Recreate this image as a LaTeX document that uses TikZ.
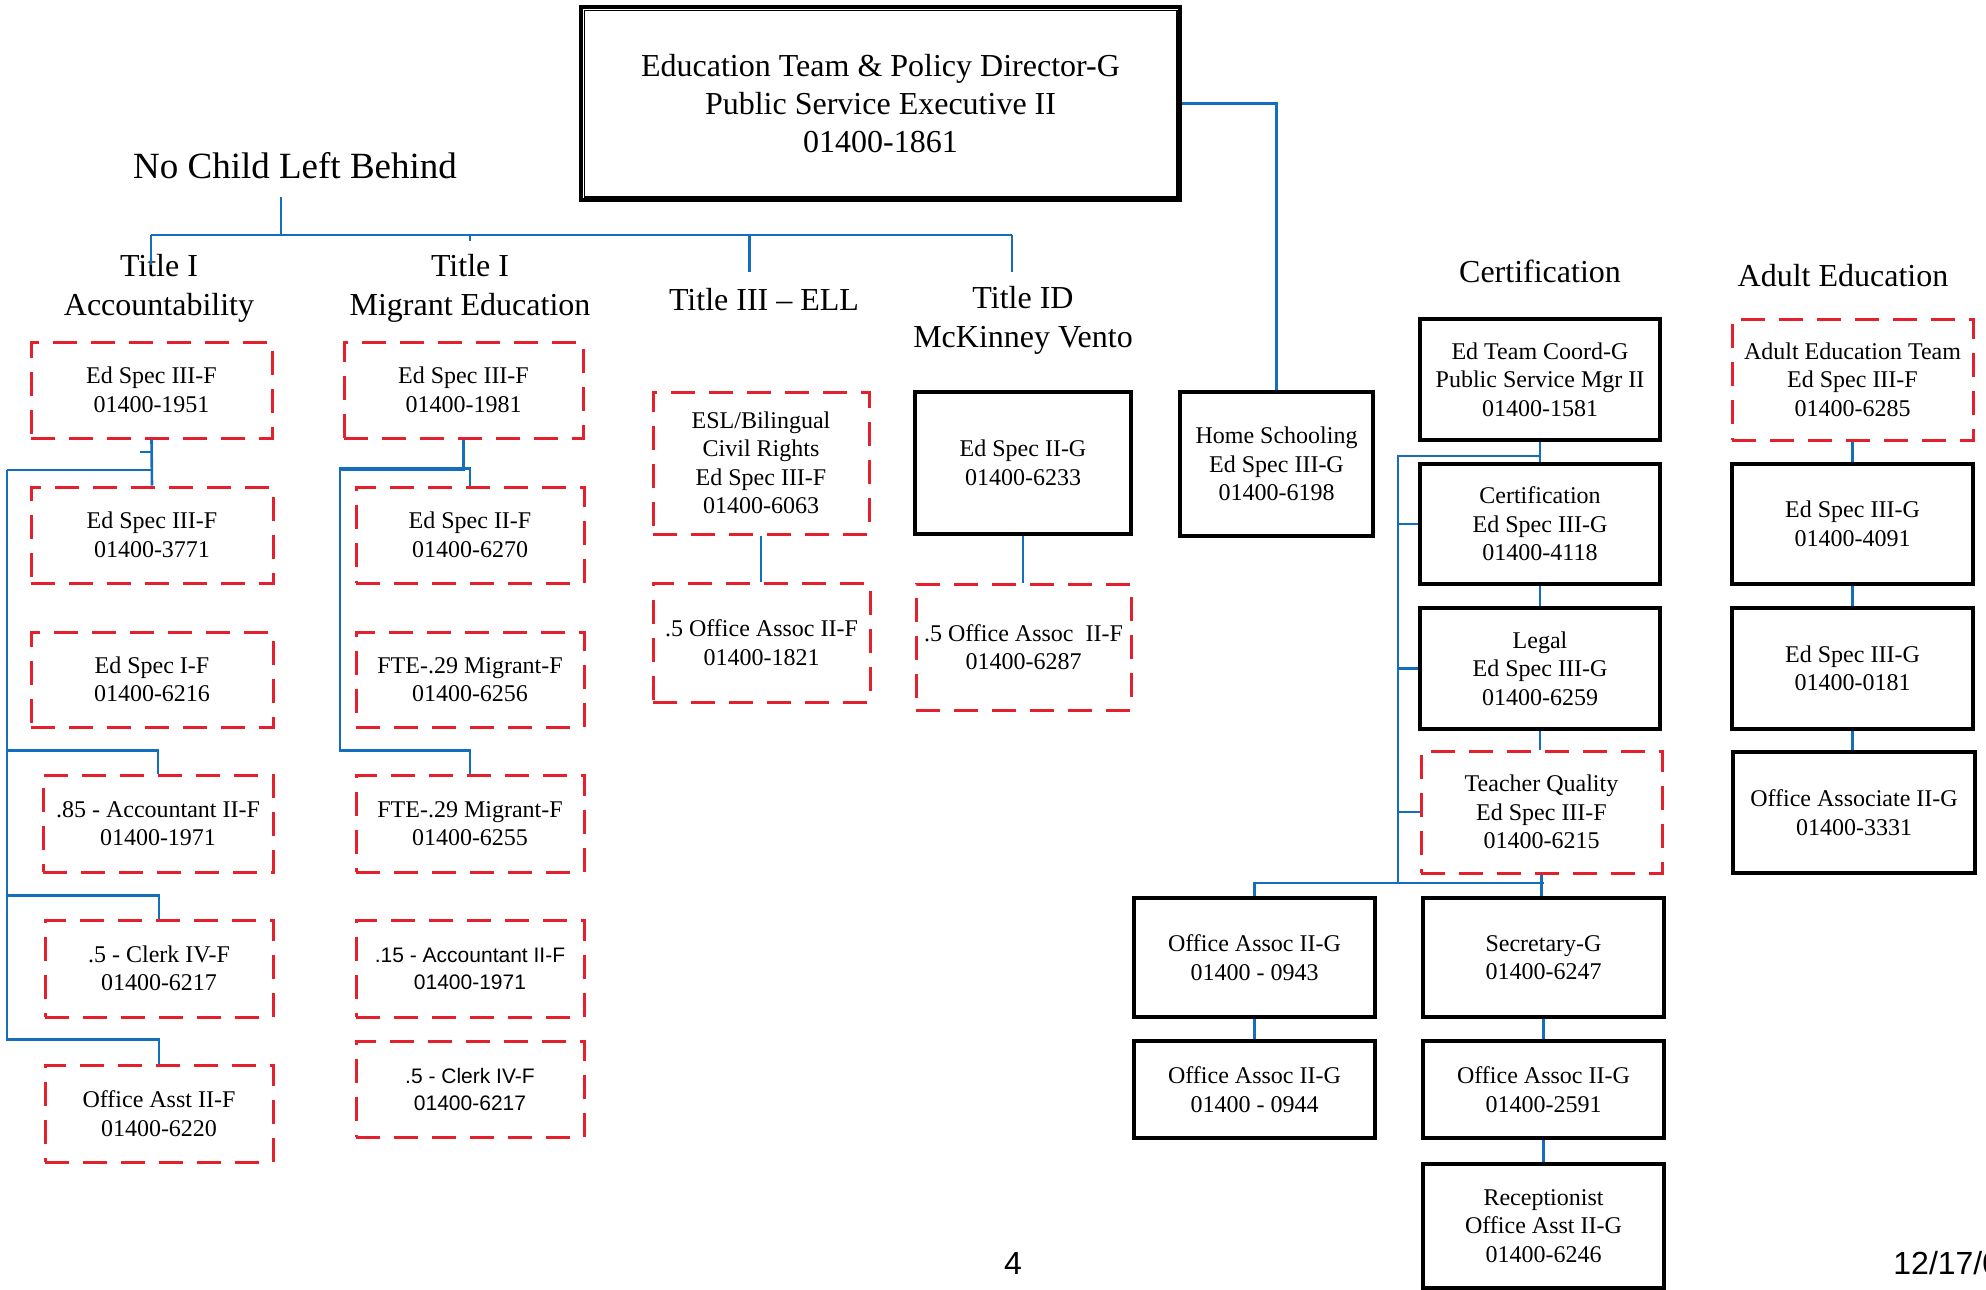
\documentclass[tikz,border=0pt]{standalone}
\usepackage{fontspec}
\setmainfont{Liberation Serif}
\newfontfamily\orgsans{Liberation Sans}

\definecolor{linkblue}{RGB}{20,110,190}
\definecolor{dashred}{RGB}{228,32,45}

\newcommand\orgboxfont{\fontsize{12}{14.25}\selectfont}
\newcommand\orgsansfont{\orgsans\fontsize{10.5}{13.5}\selectfont}
\newcommand\orgheadfont{\fontsize{16}{19.5}\selectfont}

% place a box by its corners (in pixel units): style, name, x1, y1, x2, y2, text
\newcommand\posbox[7]{%
  \node[#1, minimum width={(#5-#3)*0.5pt}, minimum height={(#6-#4)*0.5pt}]
    (#2) at ({(#3+#5)/2},{(#4+#6)/2}) {#7};}

\begin{document}
\begin{tikzpicture}[x=0.5pt, y=-0.5pt,
  solidbox/.style={draw=black, line width=1.7pt, inner sep=0pt, align=center, font=\orgboxfont},
  dashbox/.style={draw=dashred, line width=1.5pt, dash pattern=on 12pt off 7pt,
                  inner sep=0pt, align=center, font=\orgboxfont},
  sansdash/.style={dashbox, font=\orgsansfont},
  heading/.style={inner sep=0pt, align=center, font=\orgheadfont},
  link/.style={draw=linkblue, line width=1.3pt},
  thinlink/.style={draw=linkblue, line width=1.1pt}]

\clip (0,0) rectangle (1986,1290);
\fill[white] (0,0) rectangle (1986,1290);

% ---------- director ----------
\posbox{solidbox, line width=1.6pt, font=\fontsize{16}{19}\selectfont}{top}{581}{7}{1180}{200}
  {Education Team \& Policy Director-G\\Public Service Executive II\\01400-1861}
\draw[line width=0.9pt] ([shift={(5,5)}]top.north west) rectangle ([shift={(-5,-5)}]top.south east);

% ---------- headings ----------
\node[inner sep=0pt, font=\fontsize{18.5}{22}\selectfont] (nclb) at (295,166) {No Child Left Behind};
\node[heading] (hAcc)  at (159,288) {Title I\\Accountability};
\node[heading] (hMig)  at (470,288) {Title I\\Migrant Education};
\node[heading] (hEll)  at (764,300) {Title III – ELL};
\node[heading] (hId)   at (1023,320) {Title ID\\McKinney Vento};
\node[heading] (hCert) at (1540,271) {Certification};
\node[heading] (hAdult) at (1843,276) {Adult Education};

% ---------- Title I Accountability ----------
\posbox{dashbox}{a1}{31}{342}{272}{438}{Ed Spec III-F\\01400-1951}
\posbox{dashbox}{a2}{31}{487}{273}{583}{Ed Spec III-F\\01400-3771}
\posbox{dashbox}{a3}{31}{632}{273}{727}{Ed Spec I-F\\01400-6216}
\posbox{dashbox}{a4}{43}{775}{273}{872}{.85 - Accountant II-F\\01400-1971}
\posbox{dashbox}{a5}{45}{920}{273}{1017}{.5 - Clerk IV-F\\01400-6217}
\posbox{dashbox}{a6}{45}{1065}{273}{1162}{Office Asst II-F\\01400-6220}

% ---------- Title I Migrant Education ----------
\posbox{dashbox}{m1}{344}{342}{583}{438}{Ed Spec III-F\\01400-1981}
\posbox{dashbox}{m2}{356}{487}{584}{583}{Ed Spec II-F\\01400-6270}
\posbox{dashbox}{m3}{356}{632}{584}{727}{FTE-.29 Migrant-F\\01400-6256}
\posbox{dashbox}{m4}{356}{775}{584}{872}{FTE-.29 Migrant-F\\01400-6255}
\posbox{sansdash}{m5}{356}{920}{584}{1017}{.15 - Accountant II-F\\01400-1971}
\posbox{sansdash}{m6}{356}{1041}{584}{1137}{.5 - Clerk IV-F\\01400-6217}

% ---------- Title III / Title ID ----------
\posbox{dashbox}{e1}{653}{392}{869}{534}{ESL/Bilingual\\Civil Rights\\Ed Spec III-F\\01400-6063}
\posbox{dashbox}{e2}{653}{583}{870}{702}{.5 Office Assoc II-F\\01400-1821}
\posbox{solidbox}{t1}{915}{392}{1131}{534}{Ed Spec II-G\\01400-6233}
\posbox{dashbox}{t2}{916}{584}{1131}{710}{.5 Office Assoc\ \ II-F\\01400-6287}

% ---------- Home Schooling ----------
\posbox{solidbox}{hs}{1180}{392}{1373}{536}{Home Schooling\\Ed Spec III-G\\01400-6198}

% ---------- Certification ----------
\posbox{solidbox}{c1}{1420}{319}{1660}{440}{Ed Team Coord-G\\Public Service Mgr II\\01400-1581}
\posbox{solidbox}{c2}{1420}{464}{1660}{584}{Certification\\Ed Spec III-G\\01400-4118}
\posbox{solidbox}{c3}{1420}{608}{1660}{729}{Legal\\Ed Spec III-G\\01400-6259}
\posbox{dashbox}{c4}{1421}{751}{1662}{873}{Teacher Quality\\Ed Spec III-F\\01400-6215}
\posbox{solidbox}{b1}{1134}{898}{1375}{1017}{Office Assoc II-G\\01400 - 0943}
\posbox{solidbox}{b2}{1134}{1041}{1375}{1138}{Office Assoc II-G\\01400 - 0944}
\posbox{solidbox}{s1}{1423}{898}{1664}{1017}{Secretary-G\\01400-6247}
\posbox{solidbox}{s2}{1423}{1041}{1664}{1138}{Office Assoc II-G\\01400-2591}
\posbox{solidbox}{s3}{1423}{1164}{1664}{1288}{Receptionist\\Office Asst II-G\\01400-6246}

% ---------- Adult Education ----------
\posbox{dashbox}{ae1}{1732}{319}{1973}{440}{Adult Education Team\\Ed Spec III-F\\01400-6285}
\posbox{solidbox}{ae2}{1732}{464}{1973}{584}{Ed Spec III-G\\01400-4091}
\posbox{solidbox}{ae3}{1732}{608}{1973}{729}{Ed Spec III-G\\01400-0181}
\posbox{solidbox}{ae4}{1733}{752}{1975}{873}{Office Associate II-G\\01400-3331}

% ---------- footer ----------
\node[inner sep=0pt, font=\orgsans\fontsize{16}{19}\selectfont] (pagenum) at (1013,1263) {4};
\node[inner sep=0pt, anchor=west, font=\orgsans\fontsize{16}{19}\selectfont] (date) at (1893,1263) {12/17/0};

% ---------- connectors ----------
% No Child Left Behind bus
\coordinate (nclb-stub) at (281,197);
\coordinate (busL) at (151,235);
\coordinate (busR) at (1012,235);
\draw[link] (nclb-stub) -- (nclb-stub |- busL);
\draw[link] (busL) -- (busR);
\draw[link] (busL) -- ++(0,30);
\draw[link] (busL -| hEll.west) ++(81,0) coordinate (busE) -- ++(0,37);
\draw[link] (busR) -- ++(0,37);
\draw[link] (busL -| hMig.north) -- ++(0,6);

% director to Home Schooling
\draw[link] (top.east) -| (hs.north);

% Accountability column
\coordinate (acc-rail) at (7,470);
\draw[link] (a1.south) -- (a2.north);
\draw[link] (a1.south |- acc-rail) -- (acc-rail);
\draw[link] (a1.south |- 0,452) -- ++(-12,0);
\draw[link] (a4.north) -- ++(0,-23) -| (acc-rail);
\draw[link] (a5.north) -- ++(0,-23) -| (acc-rail);
\draw[link] (a6.north) -- ++(0,-24) -| (acc-rail);

% Migrant column
\coordinate (mig-rail) at (340,470);
\draw[link] (m1.south) |- (mig-rail);
\draw[link] (m2.north) -- ++(0,-17) -| (mig-rail);
\draw[link] (m4.north) -- ++(0,-23) -| (mig-rail);

% Title III and Title ID
\draw[link] (e1.south) -- (e1.south |- e2.north);
\draw[link] (t1.south) -- (t1.south |- t2.north);

% Certification
\coordinate (cert-rail) at (1398,456);
\coordinate (cert-bus) at (1398,883);
\draw[thinlink] (c1.south) -- (c2.north);
\draw[thinlink] (c2.south) -- (c3.north);
\draw[thinlink] (c3.south) -- (c3.south |- c4.north);
\draw[thinlink] (c1.south |- cert-rail) -- (cert-rail) -- (cert-bus);
\draw[thinlink] (c2.west) -| (cert-rail);
\draw[thinlink] (c3.west) -| (cert-rail);
\draw[thinlink] (c4.west) -| (cert-rail);
\draw[thinlink] (b1.north) |- (cert-bus -| s1.north);
\draw[thinlink] (c4.south) -- (c4.south |- s1.north);
\draw[thinlink] (b1.south) -- (b2.north);
\draw[thinlink] (s1.south) -- (s2.north);
\draw[thinlink] (s2.south) -- (s3.north);

% Adult Education
\draw[thinlink] (ae1.south) -- (ae2.north);
\draw[thinlink] (ae2.south) -- (ae3.north);
\draw[thinlink] (ae3.south) -- (ae3.south |- ae4.north);

\end{tikzpicture}
\end{document}
